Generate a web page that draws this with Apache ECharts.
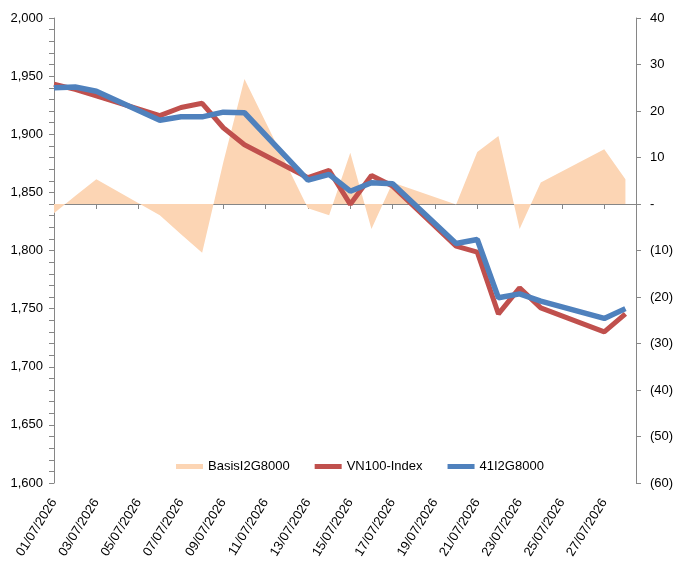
<!DOCTYPE html>
<html>
<head>
<meta charset="utf-8">
<script src="https://cdn.jsdelivr.net/npm/echarts@6/dist/echarts.min.js"></script>
<style>
  html, body { margin: 0; padding: 0; background: #fff; }
  #chart { width: 679px; height: 568px; }
</style>
</head>
<body>
<div id="chart"></div>
<script>
// trading days (dd/mm/yyyy)
var dates = ["01/07/2026","02/07/2026","03/07/2026","06/07/2026","07/07/2026","08/07/2026","09/07/2026","10/07/2026",
  "13/07/2026","14/07/2026","15/07/2026","16/07/2026","17/07/2026","20/07/2026","21/07/2026","22/07/2026",
  "23/07/2026","24/07/2026","27/07/2026","28/07/2026"];
// basis, right axis
var basis = [-2, 1.7, 5.3, -2.4, -6.5, -10.5, 9, 26.9, -0.9, -2.4, 11, -5.4, 4.6, -0.1, 11.2, 14.6, -5.4, 4.6, 11.8, 5.3];
// left axis
var vn100 = [1943, 1938.6, 1933, 1916, 1923, 1926.6, 1905.6, 1891, 1862.6, 1869, 1839.7, 1864.6, 1855.4, 1803.8, 1798.6, 1745.5, 1767.9, 1750.7, 1730, 1745.5];
var fut41 = [1940, 1940.6, 1937, 1912, 1915, 1915, 1919, 1918.5, 1860.6, 1865.5, 1851, 1858.3, 1857.4, 1806, 1809.5, 1759.3, 1762.7, 1756.4, 1741.6, 1750];
var tickLabels = ["01/07/2026","03/07/2026","05/07/2026","07/07/2026","09/07/2026","11/07/2026","13/07/2026",
  "15/07/2026","17/07/2026","19/07/2026","21/07/2026","23/07/2026","25/07/2026","27/07/2026"];

// day offset from 01/07
function dayIdx(s) { return parseInt(s.slice(0, 2), 10) - 1; }
function pair(arr) { return dates.map(function (d, i) { return [dayIdx(d), arr[i]]; }); }

var font = "'Liberation Sans', Arial, sans-serif";
var axisGrey = '#868686';

var chart = echarts.init(document.getElementById('chart'));
chart.setOption({
  animation: false,
  textStyle: { fontFamily: font },
  grid: { left: 54, right: 43, top: 18, bottom: 85 },
  legend: {
    left: 171, top: 455,
    icon: 'rect', itemWidth: 27, itemHeight: 5, itemGap: 25,
    textStyle: { fontSize: 13, color: '#000', fontFamily: font },
    data: ['BasisI2G8000', 'VN100-Index', '41I2G8000']
  },
  xAxis: {
    type: 'value', min: 0, max: 27.5,
    splitLine: { show: false },
    axisLine: { lineStyle: { color: axisGrey } },
    axisTick: { length: 5, lineStyle: { color: axisGrey }, customValues: tickLabels.map(dayIdx) },
    axisLabel: {
      customValues: tickLabels.map(dayIdx),
      rotate: 58, margin: 17, fontSize: 13, color: '#000', fontFamily: font,
      formatter: function (v) {
        var s = tickLabels.filter(function (t) { return dayIdx(t) === v; });
        return s.length ? s[0] : '';
      }
    }
  },
  yAxis: [{
    type: 'value', min: 1600, max: 2000, interval: 50,
    splitLine: { show: false },
    axisLine: { show: true, lineStyle: { color: axisGrey } },
    axisTick: { show: true, length: 5, lineStyle: { color: axisGrey } },
    minorTick: { show: true, splitNumber: 5, length: 5, lineStyle: { color: axisGrey } },
    axisLabel: {
      margin: 11, fontSize: 13, color: '#000', fontFamily: font,
      formatter: function (v) { return v.toLocaleString('en-US'); }
    }
  }, {
    type: 'value', min: -60, max: 40, interval: 10,
    splitLine: { show: false },
    axisLine: { show: true, lineStyle: { color: axisGrey } },
    axisTick: { show: true, length: 5, lineStyle: { color: axisGrey } },
    axisLabel: {
      margin: 14, fontSize: 13, color: '#000', fontFamily: font,
      formatter: function (v) { return v === 0 ? '-' : (v < 0 ? '(' + (-v) + ')' : String(v)); }
    }
  }],
  series: [{
    name: 'BasisI2G8000', type: 'line', yAxisIndex: 1,
    data: pair(basis), symbol: 'none',
    itemStyle: { color: '#FCD5B4' },
    lineStyle: { width: 0, color: '#FCD5B4' },
    areaStyle: { color: '#FCD5B4', opacity: 1 }
  }, {
    name: 'VN100-Index', type: 'line', yAxisIndex: 0,
    data: pair(vn100), symbol: 'none',
    itemStyle: { color: '#C0504D' },
    lineStyle: { width: 5, color: '#C0504D' }
  }, {
    name: '41I2G8000', type: 'line', yAxisIndex: 0,
    data: pair(fut41), symbol: 'none',
    itemStyle: { color: '#4F81BD' },
    lineStyle: { width: 5.5, color: '#4F81BD' }
  }]
});
</script>
</body>
</html>
